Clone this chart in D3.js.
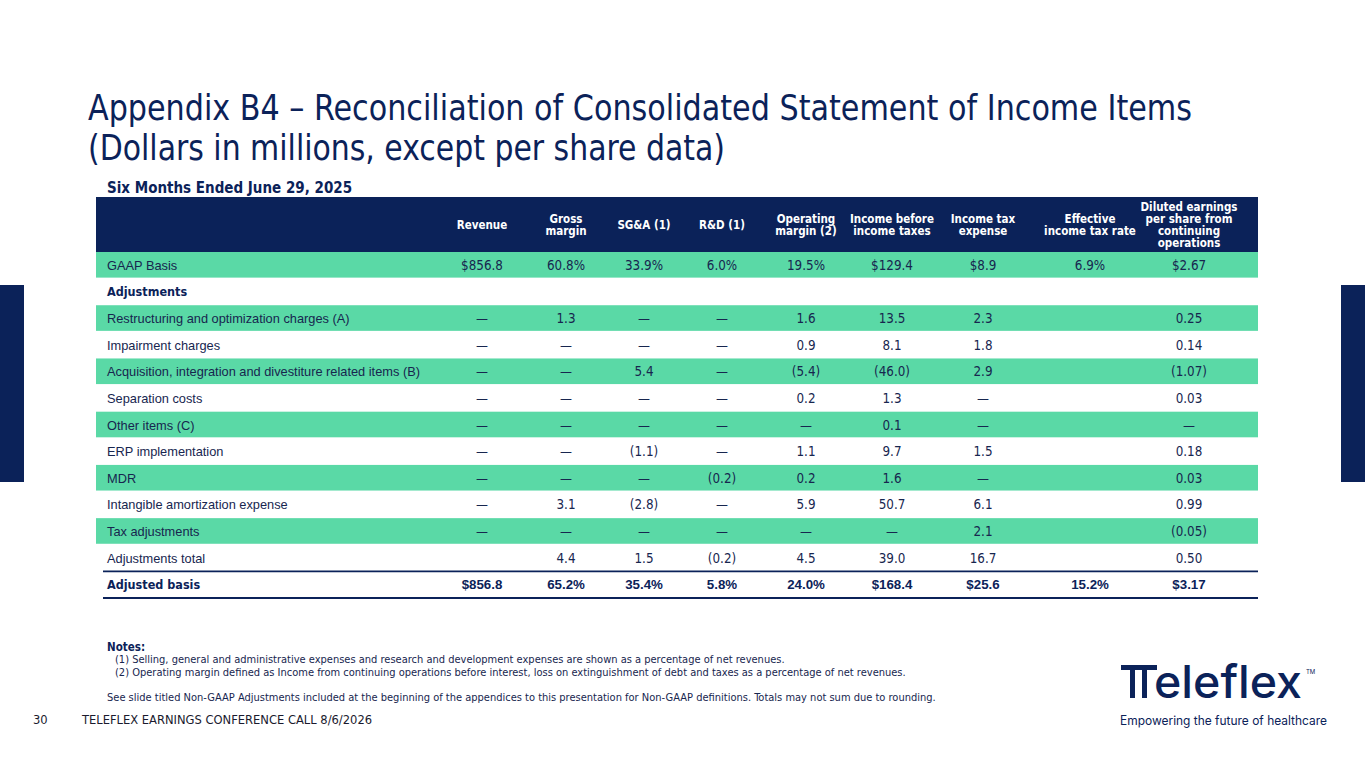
<!DOCTYPE html>
<html>
<head>
<meta charset="utf-8">
<script src="https://cdn.jsdelivr.net/npm/d3@7"></script>
<style>
  body { margin: 0; background: #fff; }
  svg { display: block; }
</style>
</head>
<body>
<svg id="slide"></svg>
<script>
// table data, one array per column
const rowLabels = [
    "GAAP Basis",
    "Adjustments",
    "Restructuring and optimization charges (A)",
    "Impairment charges",
    "Acquisition, integration and divestiture related items (B)",
    "Separation costs",
    "Other items (C)",
    "ERP implementation",
    "MDR",
    "Intangible amortization expense",
    "Tax adjustments",
    "Adjustments total",
    "Adjusted basis"
];

const columnHeads = [
    ["Revenue"],
    ["Gross", "margin"],
    ["SG&A (1)"],
    ["R&D (1)"],
    ["Operating", "margin (2)"],
    ["Income before", "income taxes"],
    ["Income tax", "expense"],
    ["Effective", "income tax rate"],
    ["Diluted earnings", "per share from", "continuing", "operations"]
];

const revenue      = ["$856.8", "", "—", "—", "—", "—", "—", "—", "—", "—", "—", "", "$856.8"];
const grossMargin  = ["60.8%", "", "1.3", "—", "—", "—", "—", "—", "—", "3.1", "—", "4.4", "65.2%"];
const sgna         = ["33.9%", "", "—", "—", "5.4", "—", "—", "(1.1)", "—", "(2.8)", "—", "1.5", "35.4%"];
const rnd          = ["6.0%", "", "—", "—", "—", "—", "—", "—", "(0.2)", "—", "—", "(0.2)", "5.8%"];
const opMargin     = ["19.5%", "", "1.6", "0.9", "(5.4)", "0.2", "—", "1.1", "0.2", "5.9", "—", "4.5", "24.0%"];
const incomeBefore = ["$129.4", "", "13.5", "8.1", "(46.0)", "1.3", "0.1", "9.7", "1.6", "50.7", "—", "39.0", "$168.4"];
const taxExpense   = ["$8.9", "", "2.3", "1.8", "2.9", "—", "—", "1.5", "—", "6.1", "2.1", "16.7", "$25.6"];
const effTaxRate   = ["6.9%", "", "", "", "", "", "", "", "", "", "", "", "15.2%"];
const dilutedEps   = ["$2.67", "", "0.25", "0.14", "(1.07)", "0.03", "—", "0.18", "0.03", "0.99", "(0.05)", "0.50", "$3.17"];

const columns = [revenue, grossMargin, sgna, rnd, opMargin, incomeBefore, taxExpense, effTaxRate, dilutedEps];

const notes = [
    "(1) Selling, general and administrative expenses and research and development expenses are shown as a percentage of net revenues.",
    "(2) Operating margin defined as Income from continuing operations before interest, loss on extinguishment of debt and taxes as a percentage of net revenues."
];

const NAVY = "#0b2259";
const GREEN = "#5ad9a6";
const TEXT = "#17264f";
const TAHOMA = "'DejaVu Sans Condensed', 'DejaVu Sans', sans-serif";
const ARIAL = "'Liberation Sans', Arial, sans-serif";

const width = 1365;
const height = 768;

const svg = d3.select("#slide")
    .attr("width", width)
    .attr("height", height);

// side bars
svg.append("rect").attr("x", 0).attr("y", 285).attr("width", 24).attr("height", 197).attr("fill", NAVY);
svg.append("rect").attr("x", 1341).attr("y", 285).attr("width", 24).attr("height", 197).attr("fill", NAVY);

// title
const title = svg.append("g")
    .attr("fill", NAVY)
    .style("font-family", TAHOMA)
    .style("font-stretch", "condensed")
    .style("font-size", "35px");

title.append("text")
    .attr("x", 88).attr("y", 120)
    .attr("textLength", 1104).attr("lengthAdjust", "spacingAndGlyphs")
    .text("Appendix B4 – Reconciliation of Consolidated Statement of Income Items");

title.append("text")
    .attr("x", 88).attr("y", 160)
    .attr("textLength", 637).attr("lengthAdjust", "spacingAndGlyphs")
    .text("(Dollars in millions, except per share data)");

svg.append("text")
    .attr("x", 107).attr("y", 193)
    .attr("fill", NAVY)
    .style("font-family", TAHOMA)
    .style("font-stretch", "condensed")
    .style("font-weight", "bold")
    .style("font-size", "15px")
    .text("Six Months Ended June 29, 2025");

// table geometry
const tableLeft = 96;
const tableRight = 1258;
const headerTop = 197;
const bodyTop = 252;
const bodyBottom = 598;
const labelX = 107;
const firstColStart = 440;
const colWidths = [84, 84, 72, 84, 84, 88, 94, 120, 78];

const colCenters = [];
colWidths.reduce((acc, w) => { colCenters.push(acc + w / 2); return acc + w; }, firstColStart);

const x = d3.scaleOrdinal()
    .domain(d3.range(columns.length))
    .range(colCenters);

const y = d3.scaleBand()
    .domain(d3.range(rowLabels.length))
    .range([bodyTop, bodyBottom]);

// header band
svg.append("rect")
    .attr("x", tableLeft).attr("y", headerTop)
    .attr("width", tableRight - tableLeft).attr("height", bodyTop - headerTop)
    .attr("fill", NAVY);

const headLine = 12;
const heads = svg.selectAll(".col-head")
    .data(columnHeads)
    .enter()
    .append("text")
    .attr("class", "col-head")
    .attr("text-anchor", "middle")
    .attr("fill", "#fff")
    .style("font-family", TAHOMA)
    .style("font-stretch", "condensed")
    .style("font-weight", "bold")
    .style("font-size", "11.5px");

heads.selectAll("tspan")
    .data((d, i) => d.map(t => ({ t, i, n: d.length })))
    .enter()
    .append("tspan")
    .attr("x", d => x(d.i))
    .attr("y", (d, j) => (headerTop + bodyTop) / 2 + (j - (d.n - 1) / 2) * headLine + 4)
    .text(d => d.t);

// striped rows
const isGreen = i => i % 2 === 0 && i < 11;

svg.selectAll(".stripe")
    .data(rowLabels.map((d, i) => i).filter(isGreen))
    .enter()
    .append("rect")
    .attr("class", "stripe")
    .attr("x", tableLeft)
    .attr("y", d => y(d))
    .attr("width", tableRight - tableLeft)
    .attr("height", y.bandwidth() - 1)
    .attr("fill", GREEN);

// rules round adjusted basis
const last = rowLabels.length - 1;
[y(last), y(last) + y.bandwidth()].forEach(ly => {
    svg.append("line")
        .attr("x1", 103).attr("x2", tableRight)
        .attr("y1", ly).attr("y2", ly)
        .attr("stroke", NAVY)
        .attr("stroke-width", 1.8);
});

// row labels
const isBoldRow = i => i === 1 || i === last;

svg.selectAll(".row-label")
    .data(rowLabels)
    .enter()
    .append("text")
    .attr("class", "row-label")
    .attr("x", labelX)
    .attr("y", (d, i) => y(i) + y.bandwidth() / 2 + 4.5)
    .attr("fill", (d, i) => isBoldRow(i) ? NAVY : TEXT)
    .style("font-family", (d, i) => isBoldRow(i) ? TAHOMA : ARIAL)
    .style("font-stretch", "condensed")
    .style("font-weight", (d, i) => isBoldRow(i) ? "bold" : "normal")
    .style("font-size", (d, i) => isBoldRow(i) ? "12.5px" : "12.8px")
    .text(d => d);

// cell values
const cells = [];
columns.forEach((col, c) => col.forEach((v, r) => { if (v !== "") cells.push({ c, r, v }); }));

svg.selectAll(".cell")
    .data(cells)
    .enter()
    .append("text")
    .attr("class", "cell")
    .attr("x", d => x(d.c))
    .attr("y", d => y(d.r) + y.bandwidth() / 2 + 4.5)
    .attr("text-anchor", "middle")
    .attr("fill", d => d.r === last ? NAVY : TEXT)
    .style("font-family", d => d.r === last ? ARIAL : TAHOMA)
    .style("font-stretch", "condensed")
    .style("font-weight", d => d.r === last ? "bold" : "normal")
    .style("font-size", "13.3px")
    .text(d => d.v);

// notes
const noteG = svg.append("g")
    .attr("fill", TEXT)
    .style("font-family", TAHOMA)
    .style("font-stretch", "condensed")
    .style("font-size", "11px");

noteG.append("text")
    .attr("x", 107).attr("y", 651)
    .attr("fill", NAVY)
    .style("font-weight", "bold")
    .style("font-size", "11.5px")
    .text("Notes:");

noteG.selectAll(".note")
    .data(notes)
    .enter()
    .append("text")
    .attr("class", "note")
    .attr("x", 115)
    .attr("y", (d, i) => 663 + i * 13)
    .text(d => d);

noteG.append("text")
    .attr("x", 107).attr("y", 701)
    .text("See slide titled Non-GAAP Adjustments included at the beginning of the appendices to this presentation for Non-GAAP definitions. Totals may not sum due to rounding.");

// footer
const foot = svg.append("g")
    .attr("fill", "#1a1a2e")
    .style("font-family", TAHOMA)
    .style("font-stretch", "condensed")
    .style("font-size", "12.8px");

foot.append("text").attr("x", 33).attr("y", 724).text("30");
foot.append("text").attr("x", 82).attr("y", 724).text("TELEFLEX EARNINGS CONFERENCE CALL 8/6/2026");

// logo: joined double-stem T, then the rest of the wordmark
const logo = svg.append("g").attr("fill", NAVY);
logo.append("rect").attr("x", 1121).attr("y", 665).attr("width", 36).attr("height", 5);
logo.append("rect").attr("x", 1130).attr("y", 665).attr("width", 5).attr("height", 33);
logo.append("rect").attr("x", 1142).attr("y", 665).attr("width", 5).attr("height", 33);
logo.append("text")
    .attr("x", 1154).attr("y", 698)
    .attr("textLength", 148).attr("lengthAdjust", "spacingAndGlyphs")
    .style("font-family", "Inter, 'Noto Sans', sans-serif")
    .style("font-weight", "500")
    .style("font-size", "45px")
    .text("eleflex");
logo.append("text")
    .attr("x", 1306).attr("y", 674)
    .style("font-family", "Inter, sans-serif")
    .style("font-size", "6px")
    .text("TM");
logo.append("text")
    .attr("x", 1120).attr("y", 725)
    .attr("textLength", 207).attr("lengthAdjust", "spacingAndGlyphs")
    .style("font-family", "Inter, 'Noto Sans', sans-serif")
    .style("font-size", "12.5px")
    .text("Empowering the future of healthcare");
</script>
</body>
</html>
